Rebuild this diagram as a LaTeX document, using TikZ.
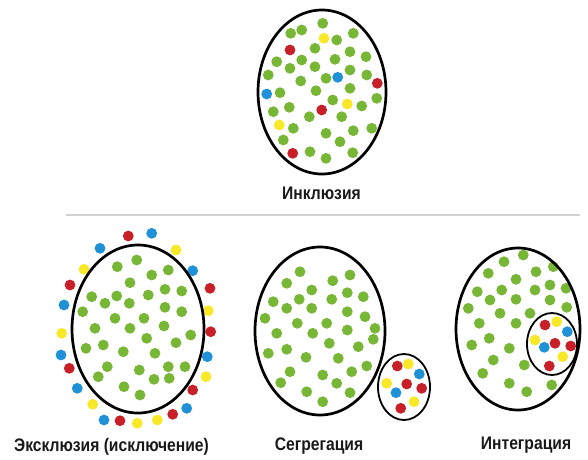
\documentclass[tikz,border=0pt]{standalone}
\usepackage{fontspec}
\setmainfont{Liberation Sans}
\newfontfamily\lblfont[FakeStretch=0.86]{Liberation Sans}
\definecolor{dgreen}{RGB}{120,182,54}
\definecolor{dred}{RGB}{200,32,40}
\definecolor{dyellow}{RGB}{248,232,40}
\definecolor{dblue}{RGB}{30,145,215}
\begin{document}
\begin{tikzpicture}[x=1pt,y=-1pt,
  gd/.style={fill=dgreen},
  rd/.style={fill=dred},
  yd/.style={fill=dyellow},
  bd/.style={fill=dblue},
  bigring/.style={draw=black,line width=2.7pt},
  smallring/.style={draw=black,line width=1.8pt},
  lbl/.style={font=\lblfont\bfseries\fontsize{18.2}{19}\selectfont,text=black!90,inner sep=0pt},
  sepline/.style={draw=black!18,line width=1.2pt}]
\fill[white] (0,0) rectangle (588,459);
\useasboundingbox (0,0) rectangle (588,459);
\def\dr{5.4pt}
% ---------- Inclusion ----------
\foreach \x/\y in {322.7/23.3,290.7/33.3,301.7/30,336.7/40,353.3/33.3,315/48.3,350/51.7,366/56.7,276.7/61.7,301.7/60,335/59.3,290/68.3,315/66.7,350/70,268.3/75,366.7/75,326/78.3,300.7/81,350/88.3,280/92.7,316/90.7,376.7/98.3,332.7/100,361.7/106,273.3/111.7,289.3/107.3,309.3/116.7,341.7/116.7,293.3/128.3,353.3/130.7,371.7/128.3,326/133.3,283.3/140,340/141.7,310/151.7,352.7/152.7,326/158.3}
  \fill[gd] (\x,\y) circle (\dr);
\foreach \x/\y in {290/50,377.3/83.3,321.7/110,292.7/153.3}
  \fill[rd] (\x,\y) circle (\dr);
\foreach \x/\y in {324/38.3,347.3/104,279.3/125}
  \fill[yd] (\x,\y) circle (\dr);
\foreach \x/\y in {337.7/77.3,266.7/94}
  \fill[bd] (\x,\y) circle (\dr);
\draw[bigring] (322,92) ellipse (64pt and 82pt);
\node[lbl] (inclL) at (321.5,193) {Инклюзия};
% separator
\coordinate (sepA) at (66,215);
\coordinate (sepB) at (580,215);
\draw[sepline] (sepA) -- (sepB);
% ---------- Exclusion ----------
\foreach \x/\y in {136.7/260,117.3/266.7,151.7/275,168.3/270,130/282.7,165/289.3,181.7/291,91.7/296.7,116.7/296,148.3/295,105/303.3,129.3/303.3,165/307.3,82.7/311.7,181.7/311.7,115/318.3,144/318.3,95/328.3,130/328.3,164/326,190.7/335,146.7/338.3,103.3/345,176/342.7,86/348.3,123.3/351.7,155/353.3,107.3/366.7,139.3/370,168.3/366.7,185/366.7,98.3/376.7,154/379.3,169.3/378.3,124/386.7,140/395}
  \fill[gd] (\x,\y) circle (\dr);
\foreach \x/\y in {128.3/236,70/285,210/288.3,210.7/331.7,69.3/368.3,192.7/390,120/420.7,172.7/414.3}
  \fill[rd] (\x,\y) circle (\dr);
\foreach \x/\y in {176/250,84/269.3,208.3/310.7,61.7/333.3,206/376.7,92.7/404.3,137.3/423.3,157.3/420}
  \fill[yd] (\x,\y) circle (\dr);
\foreach \x/\y in {151.7/233.3,100/248.3,192.7/270.7,64/305,61/355,207.3/356.7,77.3/388.3,186.7/408.3,104/420}
  \fill[bd] (\x,\y) circle (\dr);
\draw[bigring] (138,329) ellipse (66pt and 84pt);
\node[lbl] (exclL) at (111.5,447) {Эксклюзия (исключение)};
% ---------- Segregation ----------
\foreach \x/\y in {300/271.7,350/275,286.7/283.3,332.7/280.7,311.7/290,347.3/292.7,363.3/296.7,273.3/301.7,299.3/299.3,331.7/299.3,286.7/308.3,311.7/308.3,347.3/311.7,365/316.7,265/318.3,297.3/323.3,326.7/323.3,375/328.3,276.7/333.3,312.7/333.3,347.3/330,373.3/339.3,329.3/343.3,358.3/346.7,286.7/349.3,268.3/353.3,306/357.3,338.3/358.3,366.7/366,290/371.7,322.7/375,351.7/371.7,280.7/382.7,336.7/383.3,306.7/391.7,350/392.7,322.7/401.7}
  \fill[gd] (\x,\y) circle (\dr);
\draw[bigring] (320,331) ellipse (65pt and 84pt);
\foreach \x/\y in {397.3/366,406.7/384,421.7/388.3,400.7/408.3}
  \fill[rd] (\x,\y) circle (\dr);
\foreach \x/\y in {408.3/364,386.7/383.3,414/401.7}
  \fill[yd] (\x,\y) circle (\dr);
\foreach \x/\y in {419.3/374,396/392.7}
  \fill[bd] (\x,\y) circle (\dr);
\draw[smallring] (404,387) ellipse (26pt and 33pt);
\node[lbl] (segrL) at (319,446) {Сегрегация};
% ---------- Integration ----------
\foreach \x/\y in {523.3/255,504/261.7,553.3/266.7,488.3/273.3,536/271.7,516/279.3,477.3/291.7,501.7/290,535/290,550/285,566/288.3,490/300,516/299.3,550/300,468.3/308.3,566.7/307.3,500/313.3,530/313.3,479.3/323.3,516/323.3,489.3/338.3,471.7/345,509.3/348.3,493.3/360,524.3/365,482.7/373.3,509.3/383.3,526.7/391.7,551.7/385}
  \fill[gd] (\x,\y) circle (\dr);
\draw[bigring] (518,329) ellipse (62pt and 81pt);
\foreach \x/\y in {545/325,555/343.3,570.7/346,549.3/366}
  \fill[rd] (\x,\y) circle (\dr);
\foreach \x/\y in {556.7/321.7,535/340,562.7/356.7}
  \fill[yd] (\x,\y) circle (\dr);
\foreach \x/\y in {567.3/331.7,544.3/347.3}
  \fill[bd] (\x,\y) circle (\dr);
\draw[smallring] (552,344) ellipse (25pt and 31pt);
\node[lbl] (integL) at (526,445) {Интеграция};
\end{tikzpicture}
\end{document}
